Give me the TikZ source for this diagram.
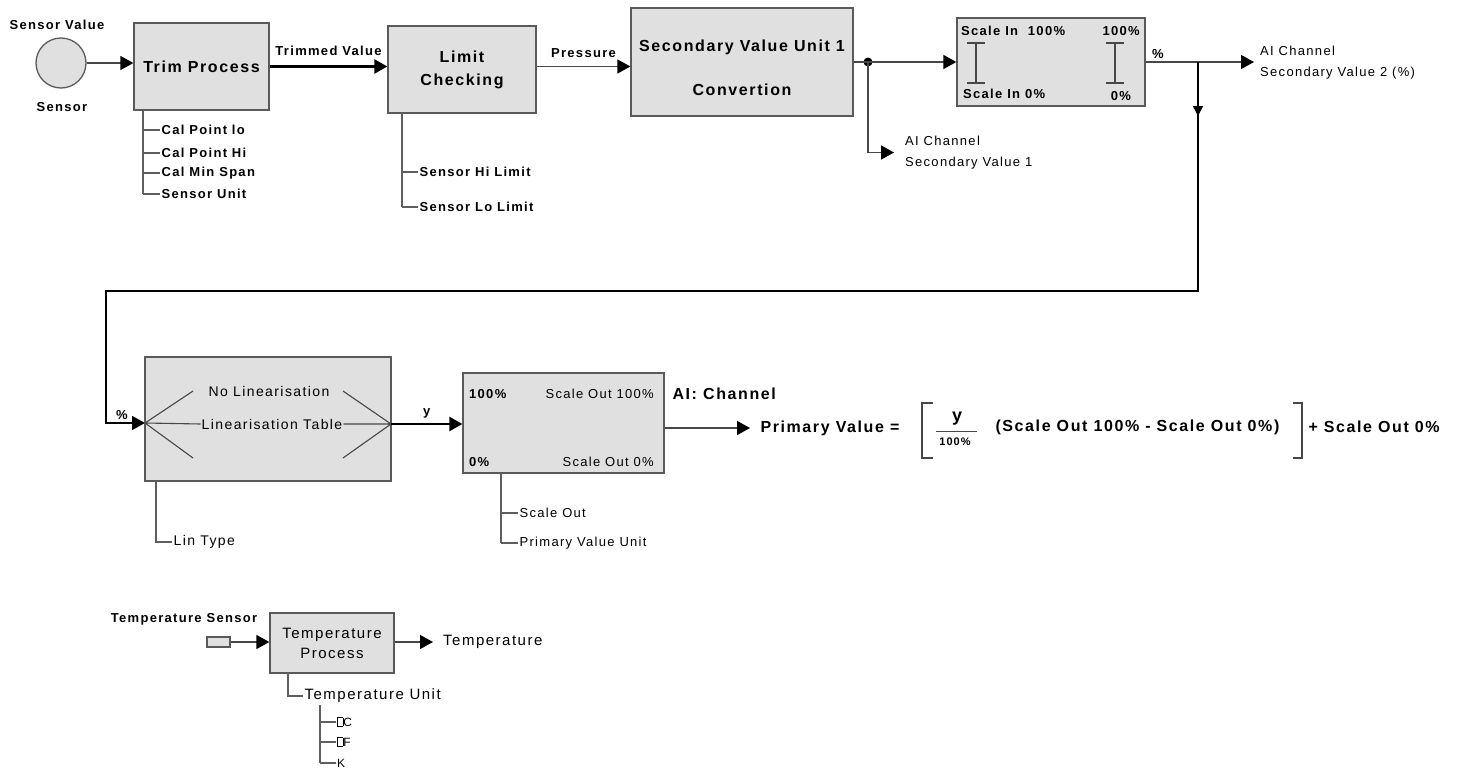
\documentclass[tikz,border=0pt]{standalone}
\usepackage{fontspec}
\setmainfont{Liberation Sans}[LetterSpace=10]
\usetikzlibrary{arrows.meta,positioning,calc}
\definecolor{aifill}{HTML}{E0E0E0}
\definecolor{aiedge}{HTML}{5A5A5A}
\definecolor{ailine}{HTML}{474747}
\definecolor{aiparam}{HTML}{5E5E5E}
\newcommand{\fsz}[2]{\fontsize{#1}{#2}\selectfont}
\newcommand{\tofu}{{\fboxsep=0pt\fboxrule=0.6pt\fbox{\rule{0pt}{8pt}\hspace{5pt}}}}
\tikzset{
  block/.style    = {draw=aiedge, fill=aifill, line width=1.3pt, inner sep=2pt,
                     align=center},
  btitle/.style   = {font=\bfseries\fsz{16}{23}, align=center},
  lbl/.style      = {font=\bfseries\fsz{13}{21}, inner sep=1pt, align=left},
  lblr/.style     = {font=\fsz{13}{21}, inner sep=1pt, align=left},
  flow/.style     = {-{Triangle[length=13pt,width=14pt,color=black]}, draw=ailine,
                     line width=1.4pt},
  mainflow/.style = {flow, draw=black, line width=2.4pt},
  loopline/.style = {draw=black, line width=1.6pt},
  param/.style    = {draw=aiparam, line width=1.3pt},
  fan/.style      = {draw=ailine, line width=1.1pt},
  bracket/.style  = {draw=ailine, line width=1.3pt},
  junction/.style = {circle, fill=black, minimum size=9pt, inner sep=0pt},
}

\begin{document}
\begin{tikzpicture}[x=1pt,y=-1pt]
  \path[use as bounding box, fill=white] (0,0) rectangle (1458,771);

  % top row: sensor to scaling
  \node[circle, draw=aiedge, fill=aifill, line width=1.3pt, minimum size=50pt,
        inner sep=0pt] (sensor) at (61,63) {};
  \node[lbl] (sensorval) at (57,25) {Sensor Value};
  \node[lbl] (sensorname) at (62,107) {Sensor};
  \node[block, btitle, minimum width=135pt, minimum height=87pt] (trim)
      at (201.5,66.5) {Trim Process};
  \node[block, btitle, minimum width=148pt, minimum height=87pt] (limit)
      at (462,69.5) {Limit\\Checking};
  \node[block, minimum width=222pt, minimum height=108pt] (secconv) at (742,62) {};
  \node[btitle] (secline1) at (742,47) {Secondary Value Unit 1};
  \node[btitle] (secline2) at (742,90) {Convertion};

  \draw[flow] (sensor.east) -- (sensor.east -| trim.west);
  \draw[mainflow] (trim.east) -- (trim.east -| limit.west)
      node[lbl, midway, above=9pt] (trimlbl) {Trimmed Value};
  \draw[flow] (trim.east -| limit.east) -- (trim.east -| secconv.west)
      node[lbl, midway, above=7pt] (preslbl) {Pressure};

  \node[junction] (split) at (868,62) {};
  \node[block, minimum width=188pt, minimum height=88pt] (scalein) at (1051,62) {};
  \draw[flow] (secconv.east) -- (split.center) -- (split.center -| scalein.west);
  \node[lblr, anchor=west] (sv1) at (904,152.5) {AI Channel\\Secondary Value 1};
  \draw[flow] (split.center) |- ([xshift=-10pt]sv1.west);

  \node[lbl, anchor=west] (sin100) at (960,31) {Scale In\ \ 100\%};
  \node[lbl, anchor=east] (sout100) at (1141,31) {100\%};
  \node[lbl, anchor=west] (sin0) at (962,94) {Scale In 0\%};
  \node[lbl] (sout0) at (1121,96) {0\%};
  \foreach \bx in {976,1115}
    \draw[fan] (\bx-9,43) -- (\bx+9,43) (\bx,43) -- (\bx,83) (\bx-9,83) -- (\bx+9,83);

  \node[lblr, anchor=west] (sv2) at (1259,62.5) {AI Channel\\Secondary Value 2 (\%)};
  \draw[flow, shorten >=5pt] (scalein.east) -- (scalein.east -| sv2.west);
  \node[lbl] (pctout) at (1158,54) {\%};

  % return path down to the linearisation
  \coordinate (tap) at (1198,62);
  \coordinate (ret) at (106,291);
  \coordinate (linin) at (145,423);
  \coordinate (linout) at (391,424);
  \draw[loopline, -{Triangle[length=10pt,width=10pt]}] (tap) -- ++(0,54);
  \draw[loopline, -{Triangle[length=13pt,width=14pt]}] (tap) |- (ret) |- (linin);
  \node[lbl] (pctin) at (122,415) {\%};

  \node[block, minimum width=246pt, minimum height=124pt] (lin) at (268,419) {};
  \node[lblr, font=\fsz{14}{20}] (nolin) at (269,391) {No Linearisation};
  \node[lblr, font=\fsz{14}{20}] (lintab) at (272,424) {Linearisation Table};
  \draw[fan] (linin) -- (193,391) (linin) -- (193,458) (linin) -- (lintab.west);
  \draw[fan] (343,391) -- (linout) (343,458) -- (linout) (lintab.east) -- (linout);

  \node[block, minimum width=201pt, minimum height=100pt] (scaleout) at (563.5,423) {};
  \draw[mainflow] (linout) -- (linout -| scaleout.west)
      node[lbl, midway, above=4pt] (ylbl) {y};
  \node[lbl, anchor=west] (so100l) at (468,394) {100\%};
  \node[lblr, anchor=east] (so100r) at (655,394) {Scale Out 100\%};
  \node[lbl, anchor=west] (so0l) at (468,462) {0\%};
  \node[lblr, anchor=east] (so0r) at (655,462) {Scale Out 0\%};
  \node[btitle, anchor=west] (aich) at (669,394) {AI: Channel};

  % primary value formula
  \node[btitle, anchor=west] (pv) at (757,428) {Primary Value =};
  \draw[flow, shorten >=7pt] (scaleout.east |- pv.west) -- (pv.west);
  \draw[bracket] (933,403) -- (922,403) -- (922,458) -- (933,458);
  \node[font=\bfseries\fsz{18}{18}, inner sep=0pt] (fracy) at (957,419) {y};
  \draw[bracket, line width=1pt] (936,431) -- (977,431);
  \node[font=\bfseries\fsz{11}{11}, inner sep=0pt] (frac100) at (955,442) {100\%};
  \node[btitle, anchor=west] (diff) at (992,427) {(Scale Out 100\% - Scale Out 0\%)};
  \draw[bracket] (1293,403) -- (1302,403) -- (1302,458) -- (1293,458);
  \node[btitle, anchor=west] (offs) at (1305,427) {+ Scale Out 0\%};

  % parameter lists
  \draw[param] (143,110) -- (143,194);
  \foreach \yy/\txt in {130/Cal Point lo,153/Cal Point Hi,173/Cal Min Span,194/Sensor Unit}
    \draw[param] (143,\yy) -- (160,\yy) node[lbl, anchor=west] (trimp\yy) {\txt};
  \draw[param] (402,113) -- (402,207);
  \foreach \yy/\txt in {172/Sensor Hi Limit,207/Sensor Lo Limit}
    \draw[param] (402,\yy) -- (418,\yy) node[lbl, anchor=west] (limp\yy) {\txt};
  \draw[param] (156,481) |- (172,542) node[lblr, font=\fsz{14}{20}, anchor=west] (lintype) {Lin Type};
  \draw[param] (501,473) -- (501,543);
  \foreach \yy/\txt in {513/Scale Out,543/Primary Value Unit}
    \draw[param] (501,\yy) -- (518,\yy) node[lblr, anchor=west] (sop\yy) {\txt};

  % temperature branch
  \node[lbl] (tsenslbl) at (184,619) {Temperature Sensor};
  \node[draw=aiedge, fill=aifill, line width=1.2pt, minimum width=23pt,
        minimum height=10pt, inner sep=0pt] (tsens) at (218.5,642) {};
  \node[block, font=\fsz{15}{20}, minimum width=124pt, minimum height=60pt] (tproc)
      at (332,643) {Temperature\\Process};
  \draw[flow] (tsens.east) -- (tsens.east -| tproc.west);
  \node[font=\fsz{15}{20}, anchor=west, inner sep=2pt] (temp) at (441,642) {Temperature};
  \draw[flow, shorten >=8pt] (tproc.east |- temp.west) -- (temp.west);
  \draw[param] (288,673) |- (303,696)
      node[lblr, font=\fsz{15}{20}, anchor=west] (tunit) {Temperature Unit};
  \draw[param] (320,705) -- (320,763);
  \foreach \yy/\txt in {722/\tofu C,742/\tofu F,763/K}
    \draw[param] (320,\yy) -- (336,\yy) node[lblr, font=\fsz{12}{14}, anchor=west, inner sep=0.5pt] (tu\yy) {\txt};
\end{tikzpicture}
\end{document}
